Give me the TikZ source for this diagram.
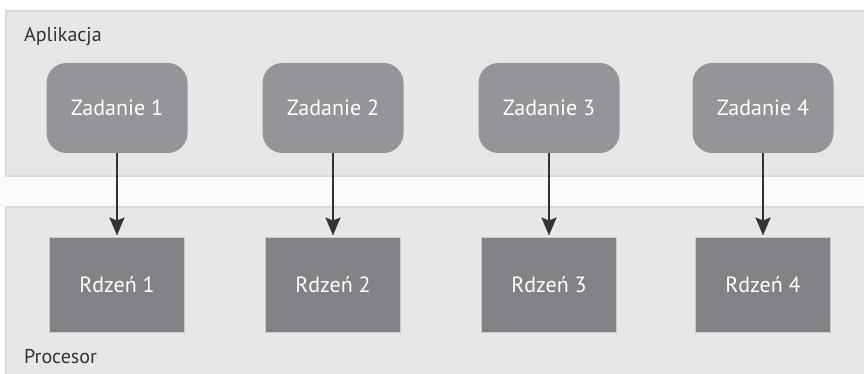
\documentclass[tikz,border=0pt]{standalone}
\usepackage{fontspec}
\setmainfont{PT Sans}
\usetikzlibrary{arrows.meta}
\definecolor{bandfill}{HTML}{E6E7E8}
\definecolor{bandline}{HTML}{D9DADB}
\definecolor{taskfill}{HTML}{939598}
\definecolor{corefill}{HTML}{808285}
\definecolor{coreline}{HTML}{C8C9CA}
\definecolor{arrowcol}{HTML}{333333}
\tikzset{
  band/.style={fill=bandfill, draw=bandline, line width=1.5pt},
  task/.style={fill=taskfill, draw=none, rounded corners=20pt, minimum width=141pt, minimum height=90pt, text=white, font=\fontsize{22}{26}\selectfont, inner sep=0pt},
  core/.style={fill=corefill, draw=coreline, line width=1pt, minimum width=135pt, minimum height=95pt, text=white, font=\fontsize{22}{26}\selectfont, inner sep=0pt},
  link/.style={draw=arrowcol, line width=2pt, -{Stealth[length=18pt,width=15pt,inset=3pt]}, shorten >=1pt},
  bandlabel/.style={anchor=base west, text=black!80, font=\fontsize{20}{24}\selectfont, inner sep=0pt}
}
\begin{document}
\begin{tikzpicture}[x=1pt,y=-1pt]
\useasboundingbox (0,0) rectangle (864,374);
\fill[white!98!black] (0,176) rectangle (864,207);
\path[band] (6,11) rectangle (870,176);
\path[band] (6,207) rectangle (870,380);
\node[bandlabel] (app) at (24,41.5) {Aplikacja};
\node[bandlabel] (proc) at (24,363) {Procesor};
\node[task] (t1) at (117,108) {Zadanie 1};
\node[task] (t2) at (333,108) {Zadanie 2};
\node[task] (t3) at (549,108) {Zadanie 3};
\node[task] (t4) at (763,108) {Zadanie 4};
\node[core] (c1) at (117,284.5) {Rdzeń 1};
\node[core] (c2) at (333,284.5) {Rdzeń 2};
\node[core] (c3) at (549,284.5) {Rdzeń 3};
\node[core] (c4) at (763,284.5) {Rdzeń 4};
\foreach \i in {1,2,3,4} \draw[link] (t\i) -- (c\i);
\end{tikzpicture}
\end{document}
